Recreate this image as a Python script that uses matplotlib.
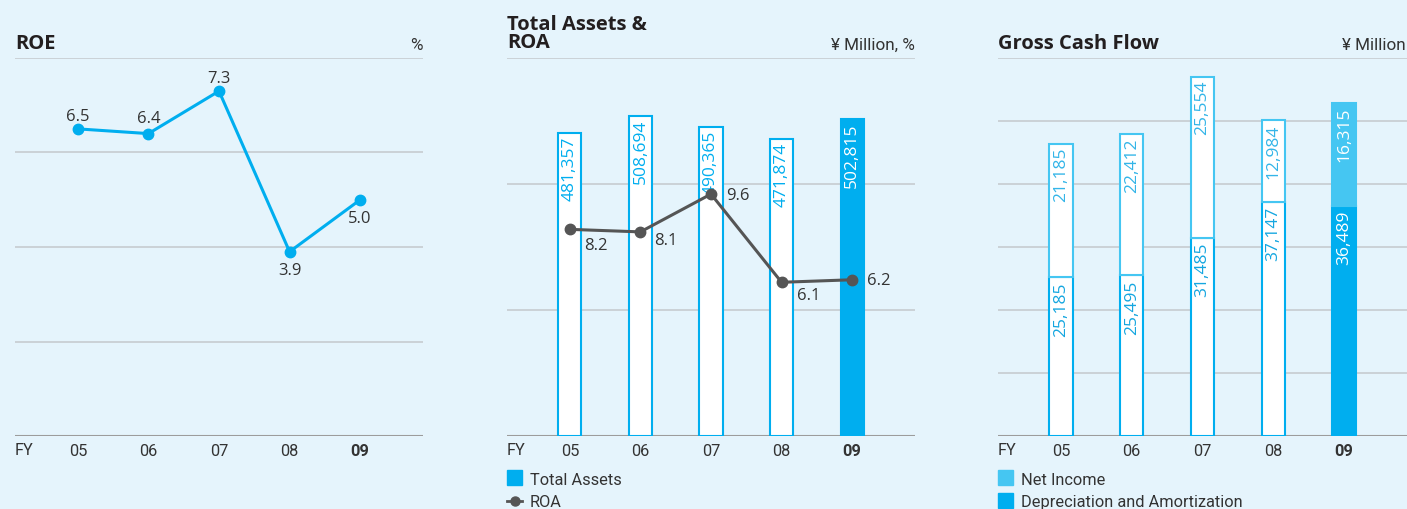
import matplotlib.pyplot as plt
from matplotlib import font_manager
from matplotlib.patches import Rectangle

# data
years = ["05", "06", "07", "08", "09"]
roe = [6.5, 6.4, 7.3, 3.9, 5.0]
total_assets = [481357, 508694, 490365, 471874, 502815]
roa = [8.2, 8.1, 9.6, 6.1, 6.2]
depreciation = [25185, 25495, 31485, 37147, 36489]
net_income = [21185, 22412, 25554, 12984, 16315]

W, H = 1407, 509
BG = "#e5f4fc"
CYAN = "#00aeef"
LIGHT = "#45c6f2"
GRID = "#c4c8cc"
BASE = "#9c9c9c"
TXT = "#333333"
DARK = "#231f20"
ROA_C = "#555555"

names = {f.name for f in font_manager.fontManager.ttflist}
NARROW = "Liberation Sans Narrow" if "Liberation Sans Narrow" in names else "Roboto"
NSIZE = 12.5 if NARROW == "Liberation Sans Narrow" else 11.8
REG = "Open Sans"
BOLD = "Open Sans"

fig = plt.figure(figsize=(W / 100, H / 100), dpi=100, facecolor=BG)


def panel(left, right, top=58, bottom=436):
    ax = fig.add_axes([left / W, 1 - bottom / H, (right - left) / W, (bottom - top) / H])
    ax.set_facecolor("none")
    for s in ax.spines.values():
        s.set_visible(False)
    ax.set_xlim(-0.89, 4.89)
    ax.tick_params(axis="x", bottom=False, pad=2.5, labelsize=NSIZE, labelcolor=TXT)
    ax.set_xticks(range(len(years)))
    ax.set_xticklabels(years, fontfamily=NARROW)
    ax.get_xticklabels()[-1].set_fontweight("bold")
    ax.grid(axis="y", color=GRID, lw=1.1)
    ax.set_axisbelow(True)
    return ax


def hide_y(ax):
    ax.tick_params(axis="y", left=False, right=False, labelleft=False, labelright=False)


# ROE
ax1 = panel(15, 423)
ax1.set_ylim(0, 8)
ax1.set_yticks([0, 2, 4, 6, 8])
hide_y(ax1)
ax1.axhline(0, color=BASE, lw=1.5, zorder=1)
ax1.plot(range(5), roe, color=CYAN, lw=2.2, marker="o", ms=7.5, zorder=3)
roe_off = [(0, 7.6), (0, 10.7), (0, 7.7), (0, -23.5), (0, -23.5)]
for i, v in enumerate(roe):
    ax1.annotate(f"{v:.1f}", (i, v), xytext=roe_off[i], textcoords="offset pixels",
                 ha="center", va="baseline", fontsize=12, color=TXT, fontfamily=REG)

# Total assets & ROA
ax2 = panel(507, 915)
ax2.set_ylim(0, 600000)
ax2.set_yticks([0, 200000, 400000, 600000])
ax2.axhline(0, color=BASE, lw=1.5, zorder=1)
fills = ["white"] * 4 + [CYAN]
ax2.bar(range(5), total_assets, width=0.33, color=fills, edgecolor=CYAN, lw=1.5, zorder=2)
for i, v in enumerate(total_assets):
    ax2.annotate(f"{v:,}", (i, v), xytext=(0, -4), textcoords="offset pixels", rotation=90,
                 ha="center", va="top", fontsize=12.5, fontfamily=REG,
                 color="white" if i == 4 else CYAN, zorder=3)
ax2b = ax2.twinx()
ax2b.set_ylim(0, 15)
ax2b.set_xlim(-0.89, 4.89)
for s in ax2b.spines.values():
    s.set_visible(False)
hide_y(ax2)
hide_y(ax2b)
ax2b.plot(range(5), roa, color=ROA_C, lw=2.2, marker="o", ms=7.5, zorder=3)
roa_off = [(26, -20.3), (25, -13), (27, -5.7), (27, -17.7), (27, -5)]
for i, v in enumerate(roa):
    ax2b.annotate(f"{v:.1f}", (i, v), xytext=roa_off[i], textcoords="offset pixels",
                  ha="center", va="baseline", fontsize=12, color=TXT, fontfamily=REG)

# Gross cash flow
ax3 = panel(998, 1407)
ax3.set_ylim(0, 60000)
ax3.set_yticks(range(0, 60001, 10000))
hide_y(ax3)
ax3.axhline(0, color=BASE, lw=1.5, zorder=1)
bot_fill = ["white"] * 4 + [CYAN]
top_fill = ["white"] * 4 + [LIGHT]
ax3.bar(range(5), depreciation, width=0.33, color=bot_fill, edgecolor=CYAN, lw=1.5, zorder=2)
ax3.bar(range(5), net_income, bottom=depreciation, width=0.33, color=top_fill,
        edgecolor=LIGHT, lw=1.5, zorder=2)
for i in range(5):
    ax3.annotate(f"{depreciation[i]:,}", (i, depreciation[i]), xytext=(0, -5),
                 textcoords="offset pixels", rotation=90, ha="center", va="top",
                 fontsize=12.5, fontfamily=REG, color="white" if i == 4 else "#14a6e0", zorder=3)
    ax3.annotate(f"{net_income[i]:,}", (i, depreciation[i] + net_income[i]), xytext=(0, -4),
                 textcoords="offset pixels", rotation=90, ha="center", va="top",
                 fontsize=12.5, fontfamily=REG, color="white" if i == 4 else "#33b5e8", zorder=3)

# titles, units, FY and legends in pixel space
ov = fig.add_axes([0, 0, 1, 1])
ov.set_xlim(0, W)
ov.set_ylim(H, 0)
ov.axis("off")

title_kw = dict(fontfamily=BOLD, fontweight="bold", fontsize=14.5, color=DARK, va="baseline")
unit_kw = dict(fontfamily=NARROW, fontsize=NSIZE + 0.5, color=TXT, va="baseline", ha="right")
ov.text(15, 49, "ROE", **title_kw)
ov.text(423, 50, "%", **unit_kw)
ov.text(507, 30, "Total Assets &", **title_kw)
ov.text(507, 48, "ROA", **title_kw)
ov.text(915, 50, "¥ Million, %", **unit_kw)
ov.text(998, 49, "Gross Cash Flow", **title_kw)
ov.text(1406, 50, "¥ Million", **unit_kw)
for x in (15, 507, 998):
    ov.text(x, 455, "FY", fontfamily=NARROW, fontsize=NSIZE, color=TXT, va="baseline")

leg_kw = dict(fontfamily=NARROW, fontsize=NSIZE, color=TXT, va="baseline")
ov.add_patch(Rectangle((507, 470), 15, 15, color=CYAN))
ov.text(530, 485, "Total Assets", **leg_kw)
ov.plot([507, 522], [500.5, 500.5], color=ROA_C, lw=2)
ov.plot([514.5], [500.5], "o", color=ROA_C, ms=6.5)
ov.text(530, 507, "ROA", **leg_kw)
ov.add_patch(Rectangle((998, 470), 15, 15, color=LIGHT))
ov.text(1021, 485, "Net Income", **leg_kw)
ov.add_patch(Rectangle((998, 493), 15, 15, color=CYAN))
ov.text(1021, 507, "Depreciation and Amortization", **leg_kw)

fig.savefig("out.png", dpi=100, facecolor=BG)
